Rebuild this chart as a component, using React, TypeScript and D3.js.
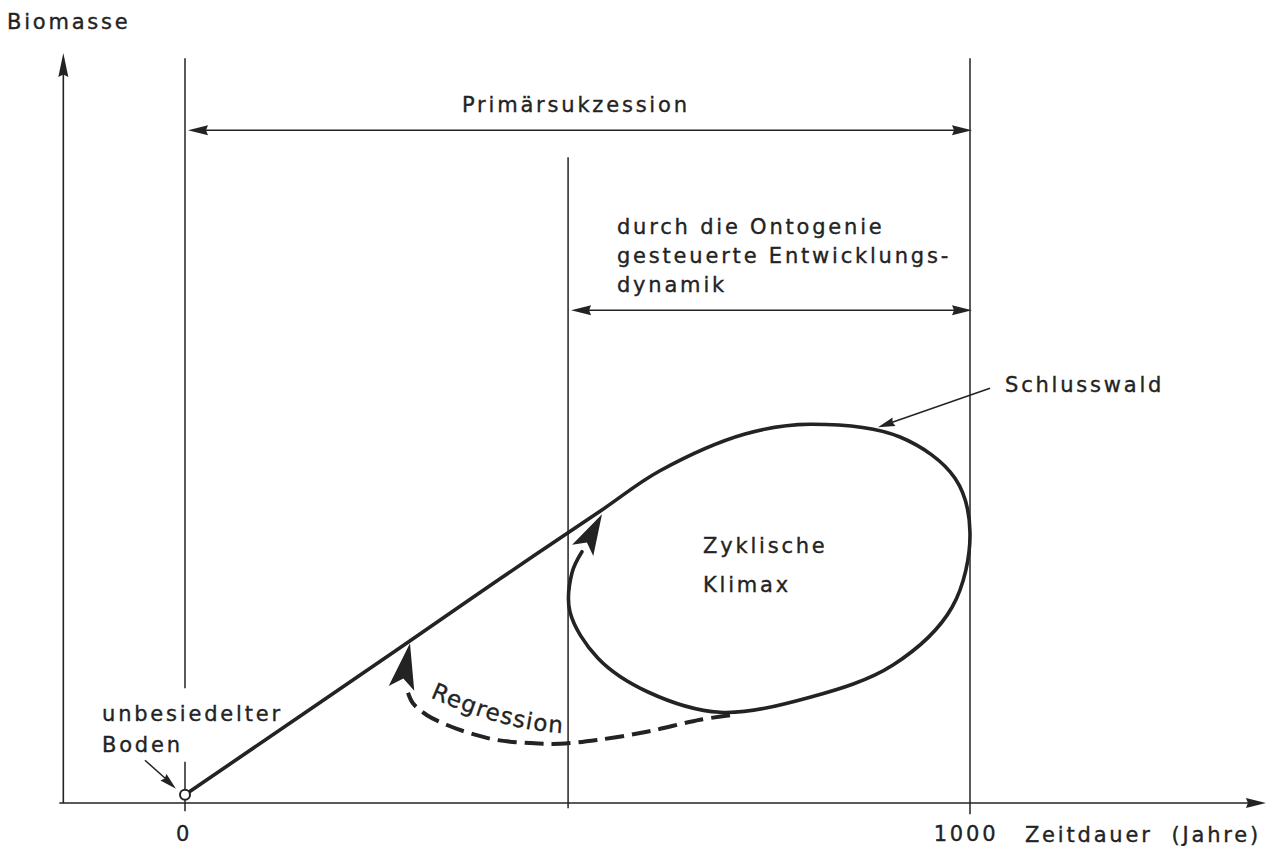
import React from "react";
import * as d3 from "d3";

// Zeitachse (Jahre) und Biomasse (relative Einheiten 0..100)
const tickYears = [0, 1000];
const guideYears = [0, 488, 1000];
const guideTop = [99.3, 86.1, 99.3];
const guideBottom = [-1.1, -0.7, -1.5];
const guideGap = [15.3, 5.5]; // Lücke in der 0-Linie für "unbesiedelter Boden"

const spanStart = [0, 488];
const spanEnd = [1000, 1000];
const spanLevel = [89.7, 65.7];

// Sukzession: Gerade vom Boden bis in die zyklische Klimax-Schleife
const growthYears = [0, 273.9, 401.3, 528.7, 605.1, 713.4, 796.2, 910.8, 980.9, 1000, 977.1, 901.9, 796.2, 681.5, 589.8, 526.1, 490.4, 493, 505.7];
const growthBiomass = [1.1, 20.7, 29.9, 38.9, 44.3, 49.2, 50.5, 48.8, 43.3, 36, 26.1, 18.4, 14.1, 12.1, 14.8, 19.3, 25.5, 30.7, 33.5];
const growthTip = [531.2, 38.5];

// Regression (gestrichelt)
const regressionYears = [694.3, 656.1, 588.5, 524.8, 477.7, 439.5, 397.5, 363.1, 333.8, 308.3, 290.4, 284.1];
const regressionBiomass = [11.7, 11.1, 9.5, 8.4, 7.9, 8, 8.4, 9.3, 10.4, 11.7, 13.3, 14.7];
const regressionTip = [286.6, 21.3];
const regressionTail = [275.8, 15.3];

const FONT = "'DejaVu Sans', 'Liberation Sans', sans-serif";
const INK = "#232323";

type P = [number, number];

function head(tip: P, from: P, len: number, half: number, notch = 0.85) {
  const dx = tip[0] - from[0];
  const dy = tip[1] - from[1];
  const d = Math.hypot(dx, dy) || 1;
  const ux = dx / d, uy = dy / d;
  const bx = tip[0] - ux * len, by = tip[1] - uy * len;
  const nx = tip[0] - ux * len * notch, ny = tip[1] - uy * len * notch;
  return [
    [tip[0], tip[1]],
    [bx - uy * half, by + ux * half],
    [nx, ny],
    [bx + uy * half, by - ux * half],
  ].map((p) => p.join(",")).join(" ");
}

export default function App() {
  const width = 1270;
  const height = 846;
  const x = d3.scaleLinear().domain([0, 1000]).range([185, 970]);
  const y = d3.scaleLinear().domain([0, 100]).range([803, 53]);

  const line = d3.line<P>()
    .x((d) => d[0])
    .y((d) => d[1])
    .curve(d3.curveCatmullRom.alpha(0.5));

  const growthPts: P[] = growthYears.map((t, i) => [x(t), y(growthBiomass[i])]);
  const regPts: P[] = regressionYears.map((t, i) => [x(t), y(regressionBiomass[i])]);
  const gTip: P = [x(growthTip[0]), y(growthTip[1])];
  const rTip: P = [x(regressionTip[0]), y(regressionTip[1])];
  const rTail: P = [x(regressionTail[0]), y(regressionTail[1])];

  const axisX0 = x(-155);
  const axisY0 = y(0);
  const yTip: P = [axisX0, y(100)];
  const xTip: P = [x(1377), axisY0];

  const txt = {
    fontFamily: FONT,
    fontSize: 21,
    letterSpacing: 2.8,
    fill: INK,
    stroke: INK,
    strokeWidth: 0.35,
  } as any;

  // Beschriftungen (Position in Jahren / Biomasse)
  const schlussFrom: P = [x(1025.5), y(55.3)];
  const schlussTip: P = [x(882.8), y(50.1)];
  const bodenFrom: P = [x(-51), y(5.7)];
  const bodenTip: P = [x(-11.5), y(1.9)];

  const regTextPath = `M${x(312.1)},${y(14.1)} Q${x(420.4)},${y(9.1)} ${x(500)},${y(9.3)}`;

  return (
    <svg
      width={width}
      height={height}
      style={{ position: "absolute", left: 0, top: 0, display: "block", background: "#fff" }}
    >
      <defs>
        <path id="regPath" d={regTextPath} fill="none" />
      </defs>

      {/* Achsen */}
      <line x1={axisX0} y1={axisY0} x2={axisX0} y2={yTip[1] + 18} stroke={INK} strokeWidth={1.6} />
      <polygon points={head(yTip, [axisX0, axisY0], 24, 5, 0.9)} fill={INK} />
      <line x1={axisX0 - 4} y1={axisY0} x2={xTip[0] - 16} y2={axisY0} stroke={INK} strokeWidth={1.6} />
      <polygon points={head(xTip, [axisX0, axisY0], 20, 5, 0.9)} fill={INK} />

      {/* Senkrechte Hilfslinien */}
      {guideYears.map((t, i) =>
        i === 0 ? (
          <g key={i}>
            <line x1={x(t)} x2={x(t)} y1={y(guideTop[i])} y2={y(guideGap[0])} stroke={INK} strokeWidth={1.5} />
            <line x1={x(t)} x2={x(t)} y1={y(guideGap[1])} y2={y(guideBottom[i])} stroke={INK} strokeWidth={1.5} />
          </g>
        ) : (
          <line key={i} x1={x(t)} x2={x(t)} y1={y(guideTop[i])} y2={y(guideBottom[i])} stroke={INK} strokeWidth={1.5} />
        )
      )}

      {/* Doppelpfeile */}
      {spanStart.map((s, i) => {
        const a: P = [x(s) + 3, y(spanLevel[i])];
        const b: P = [x(spanEnd[i]) + 2, y(spanLevel[i])];
        return (
          <g key={i}>
            <line x1={a[0] + 10} x2={b[0] - 10} y1={a[1]} y2={b[1]} stroke={INK} strokeWidth={1.5} />
            <polygon points={head(a, b, 20, 5, 0.9)} fill={INK} />
            <polygon points={head(b, a, 20, 5, 0.9)} fill={INK} />
          </g>
        );
      })}

      {/* Sukzessionskurve */}
      <path d={line(growthPts) || ""} fill="none" stroke={INK} strokeWidth={3.6} strokeLinecap="round" />
      <polygon points={head(gTip, growthPts[growthPts.length - 1], 41, 12, 0.78)} fill={INK} />

      {/* Regression */}
      <path d={line(regPts) || ""} fill="none" stroke={INK} strokeWidth={4} strokeDasharray="19 8" />
      <polygon points={head(rTip, rTail, 46, 13, 0.78)} fill={INK} />

      {/* Ursprung */}
      <circle cx={x(0)} cy={y(growthBiomass[0])} r={5} fill="#fff" stroke={INK} strokeWidth={2} />

      {/* Hinweispfeile */}
      <line x1={schlussFrom[0]} y1={schlussFrom[1]} x2={schlussTip[0] + 10} y2={schlussTip[1] - 3.5} stroke={INK} strokeWidth={1.5} />
      <polygon points={head(schlussTip, schlussFrom, 17, 4.5, 0.9)} fill={INK} />
      <line x1={bodenFrom[0]} y1={bodenFrom[1]} x2={bodenTip[0] - 8} y2={bodenTip[1] - 8} stroke={INK} strokeWidth={1.5} />
      <polygon points={head(bodenTip, bodenFrom, 17, 4.5, 0.9)} fill={INK} />

      {/* Texte */}
      <text x={x(-226.8)} y={y(103.2)} {...txt}>Biomasse</text>
      <text x={x(352.9)} y={y(92.1)} {...txt}>Primärsukzession</text>
      <text x={x(550.3)} y={y(75.9)} {...txt}>durch die Ontogenie</text>
      <text x={x(550.3)} y={y(72)} {...txt}>gesteuerte Entwicklungs-</text>
      <text x={x(550.3)} y={y(68.1)} {...txt}>dynamik</text>
      <text x={x(1044.6)} y={y(54.8)} {...txt}>Schlusswald</text>
      <text x={x(659.9)} y={y(33.3)} {...txt}>Zyklische</text>
      <text x={x(659.9)} y={y(28.1)} {...txt}>Klimax</text>
      <text x={x(-105.7)} y={y(10.9)} {...txt}>unbesiedelter</text>
      <text x={x(-105.7)} y={y(6.8)} {...txt}>Boden</text>
      {tickYears.map((t) => (
        <text key={t} x={x(t) - (t === 0 ? 1 : 4)} y={y(-5)} textAnchor="middle" {...txt}>
          {String(t)}
        </text>
      ))}
      <text x={x(1070)} y={y(-5.2)} {...txt} style={{ whiteSpace: "pre" }}>Zeitdauer  (Jahre)</text>
      <text {...txt} fontSize={23} letterSpacing={1.3}>
        <textPath href="#regPath">Regression</textPath>
      </text>
    </svg>
  );
}
